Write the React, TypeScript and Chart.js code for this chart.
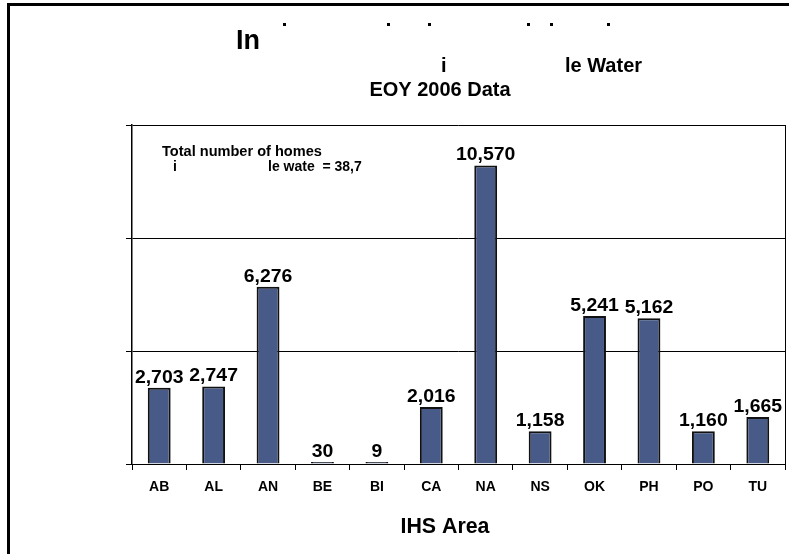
import React, { useEffect, useRef } from "react";
import { Chart, registerables } from "chart.js";

Chart.register(...registerables);

const categories = ["AB", "AL", "AN", "BE", "BI", "CA", "NA", "NS", "OK", "PH", "PO", "TU"];
const homes = [2703, 2747, 6276, 30, 9, 2016, 10570, 1158, 5241, 5162, 1160, 1665];
const yMax = 12000;
const yStep = 4000;
const titleLine1 = "In";
const titleLine2a = "i";
const titleLine2b = "le Water";
const titleLine3 = "EOY 2006 Data";
const noteLine1 = "Total number of homes";
const noteLine2a = "i";
const noteLine2b = "le wate  = 38,7";
const xAxisTitle = "IHS Area";

const FONT = '"Liberation Sans", Arial, sans-serif';

function drawText(
  ctx: CanvasRenderingContext2D,
  text: string,
  x: number,
  y: number,
  size: number,
  align: CanvasTextAlign,
  sx = 1
) {
  ctx.save();
  ctx.font = `bold ${size}px ${FONT}`;
  ctx.fillStyle = "#000";
  ctx.textAlign = align;
  ctx.textBaseline = "alphabetic";
  ctx.translate(x, y);
  ctx.scale(sx, 1);
  ctx.fillText(text, 0, 0);
  ctx.restore();
}

const decorPlugin = {
  id: "decor",
  afterDraw(chart: any) {
    const ctx: CanvasRenderingContext2D = chart.ctx;
    const area = chart.chartArea;
    ctx.save();
    // outer frame (left and top)
    ctx.fillStyle = "#000";
    ctx.fillRect(7, 3, 3, 551);
    ctx.fillRect(7, 3, 782, 3);
    // plot right border
    ctx.strokeStyle = "#000";
    ctx.lineWidth = 1;
    ctx.beginPath();
    ctx.moveTo(area.right + 0.5, area.top);
    ctx.lineTo(area.right + 0.5, area.bottom);
    ctx.stroke();
    // title fragments
    drawText(ctx, titleLine1, 236, 49, 27, "left", 1.0);
    const dots = [283, 387, 428, 527, 550, 607];
    dots.forEach((dx) => ctx.fillRect(dx, 23, 3, 3));
    drawText(ctx, titleLine2a, 441, 72, 20, "left");
    drawText(ctx, titleLine2b, 565, 72, 20, "left");
    drawText(ctx, titleLine3, 440, 96, 20, "center");
    // note inside plot
    drawText(ctx, noteLine1, 162, 156, 14, "left", 1.04);
    drawText(ctx, noteLine2a, 173, 171, 14, "left");
    drawText(ctx, noteLine2b, 268, 171, 14, "left");
    // x axis title
    drawText(ctx, xAxisTitle, 445, 533, 22, "center", 0.97);
    // data labels
    const meta = chart.getDatasetMeta(0);
    meta.data.forEach((bar: any, i: number) => {
      const v = homes[i];
      drawText(ctx, v.toLocaleString("en-US"), bar.x, bar.y - 5, 18.5, "center", 1.05);
    });
    ctx.restore();
  },
};

export default function App() {
  const ref = useRef<HTMLCanvasElement | null>(null);
  useEffect(() => {
    if (!ref.current) return;
    const chart = new Chart(ref.current, {
      type: "bar",
      data: {
        labels: categories,
        datasets: [
          {
            data: homes,
            backgroundColor: "#485b88",
            borderColor: "#111",
            borderWidth: 2,
            barPercentage: 0.42,
            categoryPercentage: 1,
            minBarLength: 2,
          },
        ],
      },
      options: {
        responsive: false,
        animation: false,
        events: [],
        layout: { padding: { left: 0, right: 4, top: 125, bottom: 0 } },
        plugins: {
          legend: { display: false },
          title: { display: false },
          tooltip: { enabled: false },
        },
        scales: {
          x: {
            offset: true,
            grid: {
              display: true,
              drawOnChartArea: false,
              drawTicks: true,
              tickLength: 6,
              color: "#000",
              lineWidth: 1,
            },
            border: { display: true, color: "#000", width: 1 },
            ticks: {
              color: "#000",
              font: { family: FONT, size: 14, weight: "bold" },
              padding: 9,
              maxRotation: 0,
              autoSkip: false,
            },
            afterFit: (s: any) => {
              s.height = 90;
            },
          },
          y: {
            min: 0,
            max: yMax,
            ticks: { stepSize: yStep, display: false },
            grid: { color: "#000", lineWidth: 1, drawTicks: true, tickLength: 6 },
            border: { display: true, color: "#000", width: 1.5 },
            afterFit: (s: any) => {
              s.width = 132;
            },
          },
        },
      },
      plugins: [decorPlugin],
    });
    return () => chart.destroy();
  }, []);
  return (
    <div style={{ position: "fixed", left: 0, top: 0, width: 789, height: 554, background: "#fff" }}>
      <canvas ref={ref} width={789} height={554} />
    </div>
  );
}
